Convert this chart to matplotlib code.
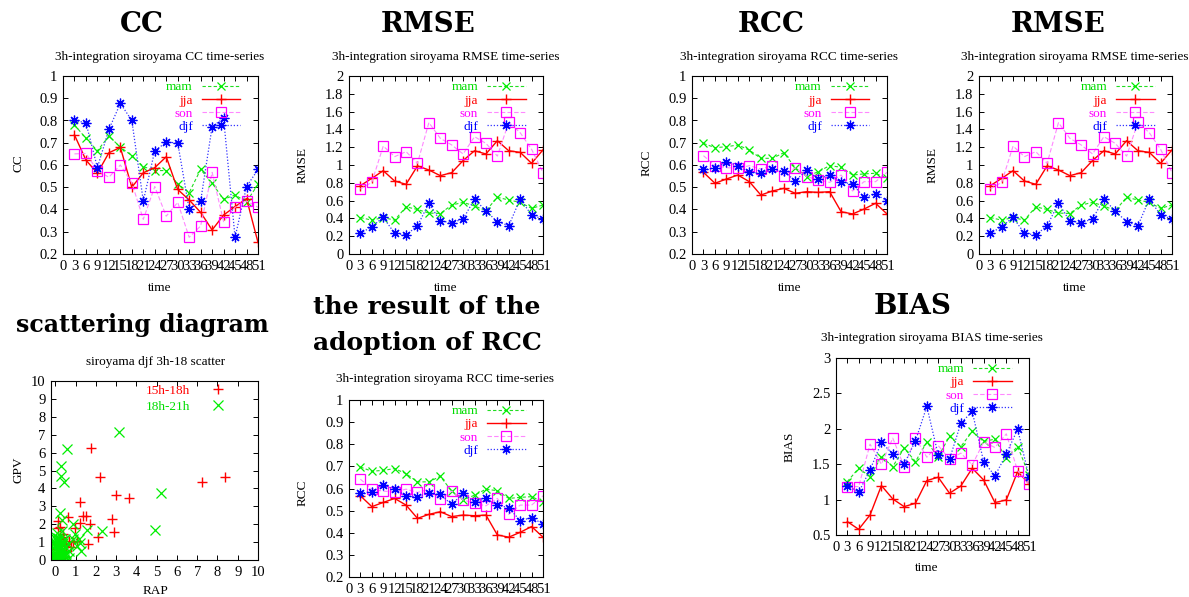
import matplotlib
matplotlib.use("Agg")
import matplotlib.pyplot as plt
from matplotlib.ticker import FuncFormatter

# ---------------- data ----------------
time = [3, 6, 9, 12, 15, 18, 21, 24, 27, 30, 33, 36, 39, 42, 45, 48, 51]
time_ticks = [0, 3, 6, 9, 12, 15, 18, 21, 24, 27, 30, 33, 36, 39, 42, 45, 48, 51]
season_labels = ["mam", "jja", "son", "djf"]

cc_mam = [0.78, 0.72, 0.664, 0.73, 0.68, 0.642, 0.593, 0.575, 0.575, 0.515, 0.476, 0.58, 0.518, 0.446, 0.465, 0.435, 0.513]
cc_jja = [0.735, 0.622, 0.563, 0.655, 0.679, 0.50, 0.565, 0.588, 0.637, 0.49, 0.443, 0.387, 0.308, 0.375, 0.413, 0.449, 0.252]
cc_son = [0.65, 0.652, 0.575, 0.545, 0.60, 0.52, 0.356, 0.503, 0.37, 0.432, 0.275, 0.326, 0.567, 0.345, 0.41, 0.438, 0.41]
cc_djf = [0.80, 0.79, 0.588, 0.76, 0.877, 0.80, 0.438, 0.664, 0.702, 0.70, 0.40, 0.438, 0.772, 0.81, 0.275, 0.503, 0.58]

rmse_mam = [0.41, 0.38, 0.41, 0.38, 0.53, 0.50, 0.46, 0.455, 0.55, 0.58, 0.54, 0.487, 0.637, 0.607, 0.58, 0.513, 0.55]
rmse_jja = [0.768, 0.85, 0.936, 0.82, 0.783, 0.99, 0.944, 0.88, 0.914, 1.05, 1.16, 1.124, 1.273, 1.16, 1.142, 1.019, 1.17]
rmse_son = [0.73, 0.805, 1.213, 1.094, 1.15, 1.019, 1.476, 1.30, 1.225, 1.124, 1.318, 1.243, 1.10, 1.48, 1.363, 1.176, 0.914]
rmse_djf = [0.232, 0.307, 0.412, 0.232, 0.213, 0.318, 0.569, 0.371, 0.352, 0.393, 0.618, 0.483, 0.363, 0.318, 0.618, 0.438, 0.393]

rcc_mam = [0.697, 0.678, 0.682, 0.69, 0.667, 0.63, 0.63, 0.655, 0.588, 0.548, 0.57, 0.597, 0.59, 0.555, 0.56, 0.563, 0.54]
rcc_jja = [0.567, 0.518, 0.537, 0.555, 0.525, 0.465, 0.483, 0.495, 0.473, 0.48, 0.477, 0.48, 0.39, 0.38, 0.402, 0.428, 0.38]
rcc_son = [0.642, 0.597, 0.588, 0.585, 0.597, 0.582, 0.597, 0.552, 0.588, 0.548, 0.533, 0.522, 0.555, 0.483, 0.525, 0.525, 0.567]
rcc_djf = [0.58, 0.585, 0.615, 0.597, 0.567, 0.563, 0.58, 0.573, 0.528, 0.578, 0.537, 0.555, 0.525, 0.513, 0.455, 0.468, 0.44]

bias_mam = [1.255, 1.443, 1.325, 1.608, 1.467, 1.726, 1.538, 1.811, 1.608, 1.892, 1.75, 1.962, 1.821, 1.854, 1.585, 1.75, 1.349]
bias_jja = [0.689, 0.58, 0.783, 1.198, 1.009, 0.901, 0.948, 1.269, 1.316, 1.09, 1.193, 1.443, 1.278, 0.958, 0.995, 1.396, 1.222]
bias_son = [1.184, 1.184, 1.783, 1.5, 1.868, 1.467, 1.868, 1.599, 1.764, 1.571, 1.656, 1.49, 1.811, 1.736, 1.929, 1.406, 1.222]
bias_djf = [1.198, 1.104, 1.42, 1.807, 1.646, 1.5, 1.83, 2.316, 1.632, 1.571, 2.08, 2.245, 1.538, 1.335, 1.642, 1.995, 1.325]

# scatter (siroyama djf)
scat_labels = ["15h-18h", "18h-21h"]
rap_1518 = [1.75, 2.21, 2.99, 3.62, 7.22, 8.36, 1.22, 1.36, 1.52, 1.69, 2.79, 2.88, 2.08, 1.59, 1.22, 0.64, 0.15, 0.23, 0.98,
            0.13, 0.38, 0.25, 0.54, 0.87, 1.04, 0.25, 0.41, 0.67, 0.30, 0.10, 0.05, 0.20, 0.50, 0.75, 0.35, 0.02, 0.08, 0.45]
gpv_1518 = [6.28, 4.66, 3.63, 3.45, 4.38, 4.66, 3.22, 2.46, 2.46, 2.01, 2.27, 1.55, 1.30, 0.88, 2.09, 2.42, 2.20, 1.86, 1.77,
            1.81, 1.44, 0.98, 0.89, 0.98, 1.07, 1.17, 0.80, 1.07, 0.40, 0.60, 0.20, 0.10, 0.50, 0.75, 1.30, 0.90, 0.30, 0.15]
rap_1821 = [3.16, 0.56, 0.28, 0.28, 0.43, 5.22, 4.89, 2.30, 1.55, 0.23, 0.31, 1.22, 0.89, 0.69,
            0.30, 0.46, 0.63, 0.87, 0.95, 1.07, 1.17, 1.28, 0.67, 0.46,
            0.00, 0.00, 0.00, 0.00, 0.00, 0.00, 0.05, 0.05, 0.05, 0.05, 0.10, 0.10, 0.10, 0.10, 0.10,
            0.15, 0.15, 0.15, 0.20, 0.20, 0.20, 0.20, 0.25, 0.25, 0.30, 0.30, 0.30, 0.35, 0.40, 0.40,
            0.45, 0.50, 0.02, 0.08, 0.12, 0.18, 0.22, 0.28, 0.03, 0.13, 0.33, 0.38]
gpv_1821 = [7.17, 6.18, 5.25, 4.69, 4.38, 3.72, 1.68, 1.64, 1.68, 2.61, 2.23, 0.93, 1.17, 0.09,
            1.63, 1.17, 0.89, 2.00, 1.44, 0.80, 1.17, 0.52, 0.52, 0.70,
            0.00, 0.20, 0.40, 0.60, 0.80, 1.00, 0.10, 0.50, 0.90, 1.30, 0.00, 0.30, 0.70, 1.10, 1.50,
            0.20, 0.60, 1.00, 0.00, 0.40, 0.80, 1.20, 0.30, 0.70, 0.10, 0.50, 0.90, 0.30, 0.00, 0.60,
            0.20, 0.40, 0.35, 0.15, 0.55, 0.85, 0.05, 0.25, 1.20, 1.25, 1.05, 0.95]

# ---------------- style ----------------
plt.rcParams['font.family'] = ['Liberation Serif', 'DejaVu Serif']
W, H = 1189, 597
fig = plt.figure(figsize=(W / 100, H / 100), dpi=100)

FS = 9.5
TICK_FS = 10.5


def title_font(size):
    return dict(family='DejaVu Serif', weight='bold', fontsize=size)


styles = {
    "mam": dict(color='#22dd22', ls=(0, (3, 2)), lw=0.8, marker='x', ms=6, mew=0.9, mec='#00ee00'),
    "jja": dict(color='#ff0000', ls='-', lw=1.0, marker='+', ms=7, mew=1.0, mec='#ff0000'),
    "son": dict(color='#ff88ff', ls=(0, (4, 2)), lw=0.8, marker='s', ms=7, mew=0.9, mec='#ff00ff', mfc='none'),
    "djf": dict(color='#3333ff', ls=(0, (1, 1.5)), lw=0.9, marker=(8, 2, 0), ms=7, mew=0.9, mec='#0000ff'),
}
text_colors = {"mam": '#00dd00', "jja": '#ff0000', "son": '#ff00ff', "djf": '#0000ff'}


def rect(l, t, r, b):
    return [l / W, 1 - b / H, (r - l) / W, (b - t) / H]


def ftext(x, y, s, **kw):
    kw.setdefault('ha', 'center')
    kw.setdefault('va', 'center')
    fig.text(x / W, 1 - y / H, s, **kw)


def style_axes(ax):
    for sp in ax.spines.values():
        sp.set_linewidth(0.8)
    ax.tick_params(direction='in', top=True, right=True, length=3.5, width=0.7,
                   labelsize=TICK_FS, pad=4)


def gfmt(v, pos):
    return ('%g' % round(v, 6))


def ts_panel(box, series, ylim, ystep):
    ax = fig.add_axes(rect(*box))
    for lab, vals in zip(season_labels, series):
        ax.plot(time, vals, label=lab, **styles[lab])
    ax.set_xlim(0, 51)
    ax.set_ylim(*ylim)
    ax.set_xticks(time_ticks)
    n = int(round((ylim[1] - ylim[0]) / ystep))
    ax.set_yticks([ylim[0] + i * ystep for i in range(n + 1)])
    ax.yaxis.set_major_formatter(FuncFormatter(gfmt))
    style_axes(ax)
    leg = ax.legend(loc='upper right', bbox_to_anchor=(0.91, 0.972), frameon=False,
                    markerfirst=False, numpoints=1, handlelength=2.9, handletextpad=0.7,
                    labelspacing=0.08, borderpad=0, borderaxespad=0, fontsize=FS)
    for t, lab in zip(leg.get_texts(), season_labels):
        t.set_color(text_colors[lab])
    return ax


# ---------------- top row ----------------
ts_panel((63, 76, 258, 254), [cc_mam, cc_jja, cc_son, cc_djf], (0.2, 1.0), 0.1)
ftext(142, 24, "CC", **title_font(20))
ftext(160, 57, "3h-integration siroyama CC time-series", fontsize=FS)
ftext(18, 163, "CC", fontsize=FS, rotation=90)
ftext(160, 288, "time", fontsize=FS)

ts_panel((349, 76, 543, 254), [rmse_mam, rmse_jja, rmse_son, rmse_djf], (0.0, 2.0), 0.2)
ftext(428, 24, "RMSE", **title_font(20))
ftext(446, 57, "3h-integration siroyama RMSE time-series", fontsize=FS)
ftext(303, 165, "RMSE", fontsize=FS, rotation=90)
ftext(446, 288, "time", fontsize=FS)

ts_panel((692, 76, 887, 254), [rcc_mam, rcc_jja, rcc_son, rcc_djf], (0.2, 1.0), 0.1)
ftext(771, 24, "RCC", **title_font(20))
ftext(789, 57, "3h-integration siroyama RCC time-series", fontsize=FS)
ftext(647, 163, "RCC", fontsize=FS, rotation=90)
ftext(790, 288, "time", fontsize=FS)

ts_panel((979, 76, 1172, 254), [rmse_mam, rmse_jja, rmse_son, rmse_djf], (0.0, 2.0), 0.2)
ftext(1058, 24, "RMSE", **title_font(20))
ftext(1075, 57, "3h-integration siroyama RMSE time-series", fontsize=FS)
ftext(933, 165, "RMSE", fontsize=FS, rotation=90)
ftext(1075, 288, "time", fontsize=FS)

# ---------------- bottom row ----------------
ax = fig.add_axes(rect(51, 381, 258, 560))
ax.plot(rap_1518, gpv_1518, ls='none', marker='+', ms=7.5, mew=1.0, color='#ff0000', label=scat_labels[0])
ax.plot(rap_1821, gpv_1821, ls='none', marker='x', ms=7, mew=0.9, color='#00ee00', label=scat_labels[1])
ax.set_xlim(-0.22, 10)
ax.set_ylim(0, 10)
ax.set_xticks(range(0, 11))
ax.set_yticks(range(0, 11))
style_axes(ax)
leg = ax.legend(loc='upper right', bbox_to_anchor=(0.9, 0.98), frameon=False,
                markerfirst=False, numpoints=1, handlelength=2.9, handletextpad=0.7,
                labelspacing=0.3, borderpad=0, borderaxespad=0, fontsize=FS)
for t, c in zip(leg.get_texts(), ['#ff0000', '#00dd00']):
    t.set_color(c)
ftext(142, 325, "scattering diagram", **title_font(17))
ftext(156, 362, "siroyama djf 3h-18 scatter", fontsize=FS)
ftext(18, 470, "GPV", fontsize=FS, rotation=90)
ftext(155, 591, "RAP", fontsize=FS)

ts_panel((349, 400, 543, 577), [rcc_mam, rcc_jja, rcc_son, rcc_djf], (0.2, 1.0), 0.1)
ftext(427, 307, "the result of the", **title_font(18))
ftext(427, 343, "adoption of RCC", **title_font(18))
ftext(445, 379, "3h-integration siroyama RCC time-series", fontsize=FS)
ftext(303, 493, "RCC", fontsize=FS, rotation=90)

ts_panel((836, 358, 1029, 535), [bias_mam, bias_jja, bias_son, bias_djf], (0.5, 3.0), 0.5)
ftext(913, 307, "BIAS", **title_font(20))
ftext(932, 338, "3h-integration siroyama BIAS time-series", fontsize=FS)
ftext(790, 447, "BIAS", fontsize=FS, rotation=90)
ftext(927, 568, "time", fontsize=FS)

fig.savefig("out.png", dpi=100)
